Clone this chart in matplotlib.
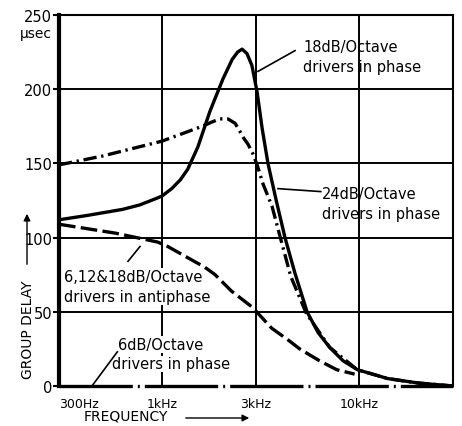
import matplotlib
matplotlib.use("Agg")
import matplotlib.pyplot as plt
from matplotlib.ticker import NullLocator

# group delay (usec) against frequency (Hz)
freq_18db = [300, 420, 630, 770, 920, 1000, 1120, 1240, 1350, 1520, 1750, 2040,
             2270, 2420, 2550, 2700, 2860, 3040, 3220, 3450, 3800, 4210, 4730,
             5450, 6200, 7100, 8300, 9800, 14000, 20000, 30000]
delay_18db = [112, 115, 119, 122, 126, 128, 133, 139, 146, 161, 185, 207,
              220, 225, 227, 224, 216, 198, 174, 150, 125, 100, 76,
              50, 36, 26, 17, 11, 5, 2, 0]

freq_24db = [300, 500, 1000, 1600, 1800, 1960, 2160, 2350, 2500, 2600, 2730,
             2880, 3040, 3260, 3620, 3950, 4500, 5400, 7100, 9800, 14000,
             20000, 30000]
delay_24db = [149, 155, 165, 175, 178, 180, 180, 177, 171, 167, 163,
              157, 149, 136, 121, 102, 74, 49, 26, 11, 5, 2, 0]

freq_anti = [300, 580, 950, 1070, 1650, 1860, 2250, 2880, 3600, 4470, 5000,
             6300, 7700, 9500]
delay_anti = [109, 103, 97, 94, 80, 75, 64, 53, 39, 30, 25, 17, 11, 8]

freq_6db = [300, 30000]
delay_6db = [0, 0]

x_ticks = [300, 1000, 3000, 10000]
x_labels = ["300Hz", "1kHz", "3kHz", "10kHz"]
y_ticks = [0, 50, 100, 150, 200, 250]

W, H = 462, 427
fig = plt.figure(figsize=(W / 100, H / 100), dpi=100)
ax = fig.add_axes([59 / W, 1 - 387 / H, (453 - 59) / W, (387 - 16) / H])

ax.set_xscale("log")
ax.set_xlim(300, 30000)
ax.set_ylim(0, 250)
ax.xaxis.set_minor_locator(NullLocator())

# grid
for f in x_ticks[1:]:
    ax.axvline(f, color="black", lw=1.4, zorder=1)
for v in y_ticks[1:-1]:
    ax.axhline(v, color="black", lw=1.4, zorder=1)

# curves
ax.plot(freq_18db, delay_18db, color="black", lw=2.4, zorder=3,
        solid_capstyle="round", solid_joinstyle="round")
l24, = ax.plot(freq_24db, delay_24db, color="black", lw=2.4, zorder=3)
l24.set_dashes([4, 1.4, 0.7, 1.4])
la, = ax.plot(freq_anti, delay_anti, color="black", lw=2.4, zorder=3)
la.set_dashes([5, 1.6])
l6, = ax.plot(freq_6db, delay_6db, color="black", lw=2.4, zorder=3, clip_on=False)
l6.set_dashes([22, 1.5, 0.6, 1.5])

# spines / ticks
for s in ["top", "right"]:
    ax.spines[s].set_linewidth(1.5)
ax.spines["left"].set_linewidth(3)
ax.spines["bottom"].set_visible(False)

ax.set_xticks(x_ticks)
ax.set_xticklabels(x_labels, fontsize=9)
ax.tick_params(axis="x", length=0, pad=8)
ax.get_xticklabels()[0].set_horizontalalignment("left")
ax.set_yticks(y_ticks)
ax.set_yticklabels([str(v) for v in y_ticks], fontsize=10.5)
ax.tick_params(axis="y", direction="out", length=4, width=1.5, pad=1)

tk = dict(fontsize=10.5, color="black", linespacing=1.45)

# labels on the curves
ax.text(5200, 222, "18dB/Octave\ndrivers in phase", ha="left", va="center", **tk)
ax.plot([3070, 4734], [212, 226], color="black", lw=1.2)

ax.text(6500, 123, "24dB/Octave\ndrivers in phase", ha="left", va="center", **tk)
ax.plot([3880, 6400], [133, 131], color="black", lw=1.2)

ax.text(318, 67, "6,12&18dB/Octave\ndrivers in antiphase", ha="left", va="center",
        bbox=dict(facecolor="white", edgecolor="none", pad=0.5), zorder=2, **tk)
ax.plot([672, 773], [84, 94], color="black", lw=1.2)

ax.text(598, 28, "6dB/Octave", ha="left", va="center",
        bbox=dict(facecolor="white", edgecolor="none", pad=0.5), zorder=2, **tk)
ax.text(558, 15, "drivers in phase", ha="left", va="center",
        bbox=dict(facecolor="white", edgecolor="none", pad=0.5), zorder=2, **tk)
ax.plot([441, 593], [0, 23], color="black", lw=1.2)

# axis titles
fig.text(20 / W, 1 - 34 / H, "\u03bcsec", fontsize=10, ha="left", va="center")
fig.text(28 / W, 1 - 330 / H, "GROUP DELAY", fontsize=10, rotation=90,
         ha="center", va="center")
ax.annotate("", xy=(27 / W, 1 - 212 / H), xytext=(27 / W, 1 - 268 / H),
            xycoords="figure fraction", textcoords="figure fraction",
            arrowprops=dict(arrowstyle="-|>", lw=1, color="black"))
fig.text(84 / W, 1 - 417 / H, "FREQUENCY", fontsize=10, ha="left", va="center")
ax.annotate("", xy=(252 / W, 1 - 419 / H), xytext=(183 / W, 1 - 419 / H),
            xycoords="figure fraction", textcoords="figure fraction",
            arrowprops=dict(arrowstyle="-|>", lw=1, color="black"))

fig.savefig("out.png", dpi=100)
